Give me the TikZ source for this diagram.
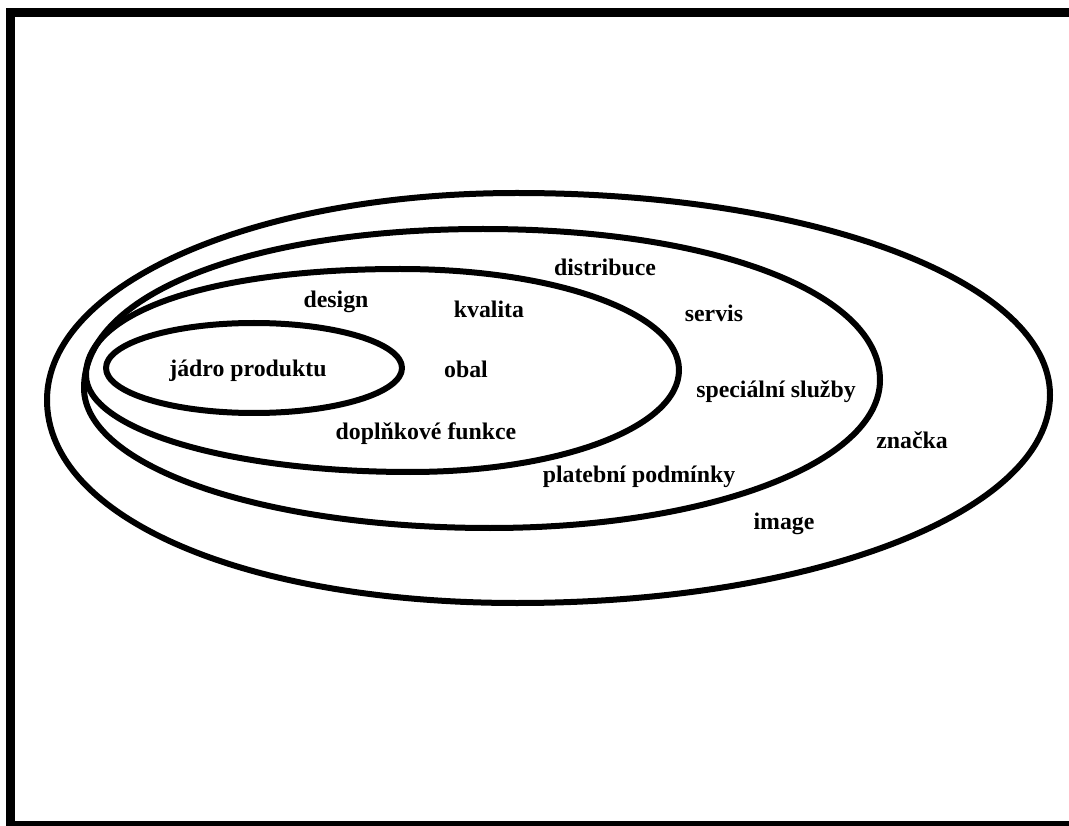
\documentclass[tikz,border=0pt]{standalone}
\usepackage{fontspec}
\setmainfont{Liberation Serif}
\begin{document}
\begin{tikzpicture}[x=1pt,y=-1pt,
  ring/.style={line width=6pt, line join=round},
  frame/.style={line width=9pt},
  lbl/.style={font=\fontsize{23.8}{28}\selectfont\bfseries, anchor=base, inner sep=0pt}]
\useasboundingbox (0,0) rectangle (1069,826);
\draw[frame] (10.5,12.3) rectangle (1090,825.5);
% outer ring
\draw[ring] (47,400) .. controls (47,284.1) and (253.8,193) .. (517,193)
  .. controls (815.5,193) and (1050,281.9) .. (1050,395)
  .. controls (1050,511.5) and (815.5,603) .. (517,603)
  .. controls (244.4,603) and (47,517.7) .. cycle;
% third ring
\draw[ring] (84,388) .. controls (84,290) and (260,229) .. (483,229)
  .. controls (713,229) and (880,292.4) .. (880,380)
  .. controls (880,462.9) and (708.4,528) .. (490,528)
  .. controls (262.6,528) and (84,466.4) .. cycle;
% second ring
\draw[ring] (86,375) .. controls (86,311.4) and (211.6,269) .. (400,269)
  .. controls (556.2,269) and (679,313.4) .. (679,370)
  .. controls (679,427.1) and (560.6,472) .. (410,472)
  .. controls (228.6,472) and (86,429.3) .. cycle;
% core
\draw[ring] (254,368) ellipse [x radius=148, y radius=45];
\node[lbl] (jadro) at (248,377) {jádro produktu};
\node[lbl] (design) at (336,308) {design};
\node[lbl] (kvalita) at (489,318) {kvalita};
\node[lbl] (obal) at (466,378) {obal};
\node[lbl] (dopl) at (426,439) {doplňkové funkce};
\node[lbl] (distr) at (605,276) {distribuce};
\node[lbl] (servis) at (714,322) {servis};
\node[lbl] (spec) at (776,398) {speciální služby};
\node[lbl] (plat) at (639,482) {platební podmínky};
\node[lbl] (znacka) at (912,448) {značka};
\node[lbl] (image) at (784,529) {image};
\end{tikzpicture}
\end{document}
